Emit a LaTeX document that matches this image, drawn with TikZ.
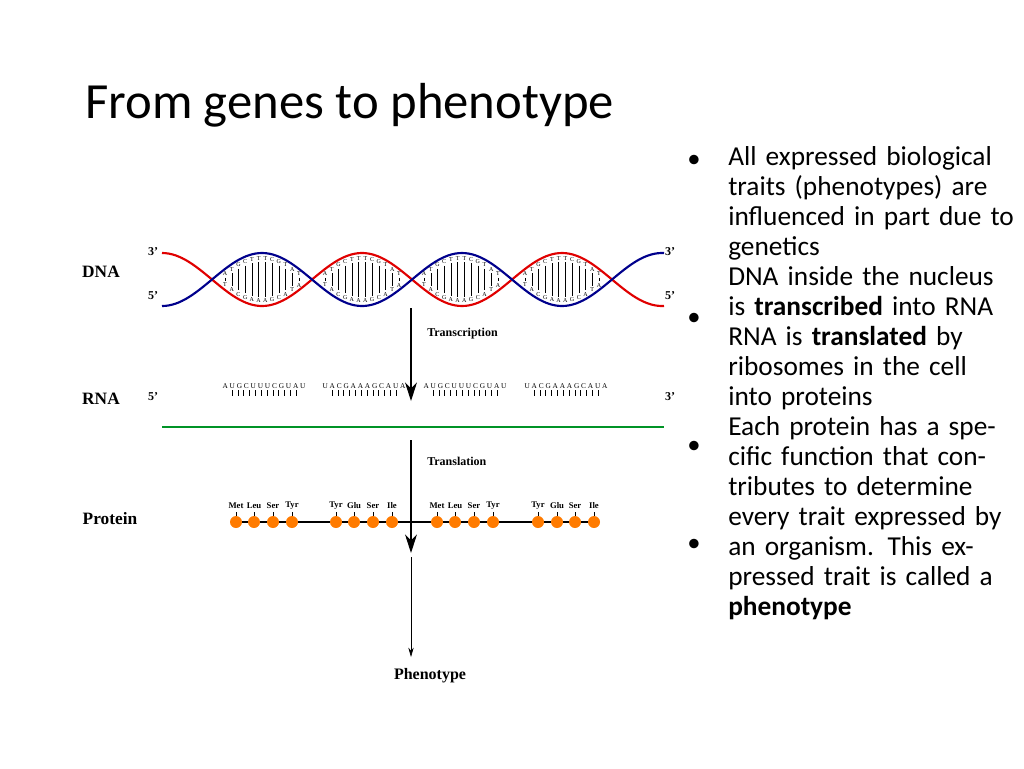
\documentclass[tikz,border=0pt]{standalone}
\usepackage{fontspec}
\setmainfont{Carlito}
\newfontfamily\lbl{Liberation Serif}
\usetikzlibrary{arrows.meta}
\begin{document}
\begin{tikzpicture}[x=0.75pt,y=-0.75pt,
  lab/.style={font=\lbl\bfseries\fontsize{13}{13}\selectfont,inner sep=0pt},
  tiny/.style={font=\lbl\fontsize{4.5}{4.5}\selectfont,inner sep=0pt},
  aa/.style={font=\lbl\bfseries\fontsize{6.5}{6.5}\selectfont,inner sep=0pt},
  flow/.style={-{Stealth[length=14pt,width=9pt]},line width=0.8pt},
  bead/.style={circle,fill=orange!85!red!90!yellow,minimum size=9pt,inner sep=0pt}]
\useasboundingbox (0,0) rectangle (1024,768);
\node[anchor=base west,font=\fontsize{38}{38}\selectfont,inner sep=0pt] (title) at (85,118) {From genes to phenotype};
% DNA helix
\draw[red!85!black!80!red,line width=1.6pt,domain=0:502,samples=150,smooth] plot ({\x+162},{279.5-26.5*cos(1.8*\x)});
\draw[blue!55!black,line width=1.6pt,domain=0:502,samples=150,smooth] plot ({\x+162},{279.5+26.5*cos(1.8*\x)});
\foreach \c in {212,312,411,512}{
  \foreach[count=\i from 0] \t/\b in {A/T,T/A,G/C,C/G,T/A,T/A,T/A,C/G,G/C,T/A,A/T,T/A}{
    \pgfmathsetmacro\dx{13+\i*74/11}
    \pgfmathsetmacro\xx{\c+\dx}
    \pgfmathsetmacro\h{26.5*abs(sin(1.8*\dx))}
    \node[tiny] at (\xx,{279.5-\h+5}) {\t};
    \node[tiny] at (\xx,{279.5+\h-5}) {\b};
    \draw[line width=0.3pt] (\xx,{279.5-\h+9}) -- (\xx,{279.5+\h-9});
  }
}
\node[lab] (dna) at (101,272) {DNA};
\node[lab,font=\lbl\bfseries\fontsize{9}{9}\selectfont] (d3l) at (153,252) {3’};
\node[lab,font=\lbl\bfseries\fontsize{9}{9}\selectfont] (d5l) at (153,296) {5’};
\node[lab,font=\lbl\bfseries\fontsize{9}{9}\selectfont] (d3r) at (670,252) {3’};
\node[lab,font=\lbl\bfseries\fontsize{9}{9}\selectfont] (d5r) at (670,296) {5’};
% RNA
\coordinate (r0) at (162,427); \coordinate (r1) at (664,427);
\draw[green!50!black!85!cyan,line width=1.8pt] (r0) -- (r1);
\node[lab] (rna) at (101,399) {RNA};
\node[lab,font=\lbl\bfseries\fontsize{9}{9}\selectfont] (r5) at (153,397) {5’};
\node[lab,font=\lbl\bfseries\fontsize{9}{9}\selectfont] (r3) at (670,397) {3’};
\foreach \c/\s in {264/AUGCUUUCGUAU,364/UACGAAAGCAUA,465/AUGCUUUCGUAU,566/UACGAAAGCAUA}{
  \node[tiny,font=\lbl\fontsize{5.5}{5.5}\selectfont] at (\c,386) {\addfontfeature{LetterSpace=25}\s};
  \foreach \i in {0,...,11}{\draw[line width=0.3pt] ({\c-32+\i*64/11},390)--({\c-32+\i*64/11},396);}
}
% arrows
\coordinate (a1s) at (411,308); \coordinate (a1e) at (411,401);
\draw[flow] (a1s) -- (a1e);
\node[lab,font=\lbl\bfseries\fontsize{9}{9}\selectfont,anchor=west] (tr) at (427,334) {Transcription};
\coordinate (a2s) at (411,440); \coordinate (a2e) at (411,553);
\draw[flow] (a2s) -- (a2e);
\node[lab,font=\lbl\bfseries\fontsize{9}{9}\selectfont,anchor=west] (tl) at (427,461) {Translation};
% protein
\node[lab] (prot) at (110,519) {Protein};
\coordinate (p0) at (236,522); \coordinate (p1) at (594,522);
\draw[line width=1.3pt] (p0) -- (p1);
\foreach \x/\n in {236/Met,254/Leu,273/Ser,292/Tyr,336/Tyr,354/Glu,373/Ser,392/Ile,437/Met,455/Leu,474/Ser,493/Tyr,538/Tyr,557/Glu,575/Ser,594/Ile}{
  \draw[line width=0.4pt] (\x,512) -- (\x,518);
  \node[bead] at (\x,522) {};
  \node[aa] at (\x,506) {\n};
}
\coordinate (a3s) at (411,557); \coordinate (a3e) at (411,657);
\draw[-{Stealth[length=7pt,width=4pt]},line width=0.5pt] (a3s) -- (a3e);
\node[lab,font=\lbl\bfseries\fontsize{12}{12}\selectfont] (ph) at (430,676) {Phenotype};
% bullets
\node[anchor=north west,inner sep=0pt,text width=215pt,font=\fontsize{20.5}{22.5}\selectfont,align=left] (txt) at (728,146) {%
All expressed biological traits (phenotypes) are influenced in part due to genetics\\[0pt]
DNA inside the nucleus is \textbf{transcribed} into RNA\\
RNA is \textbf{translated} by ribosomes in the cell into proteins\\
Each protein has a specific function that contributes to determine every trait expressed by an organism. This expressed trait is called a \textbf{phenotype}};
\foreach \y in {161,319,447,545}{\node[font=\fontsize{20}{20}\selectfont,inner sep=0pt] at (694,\y) {•};}
\end{tikzpicture}
\end{document}
